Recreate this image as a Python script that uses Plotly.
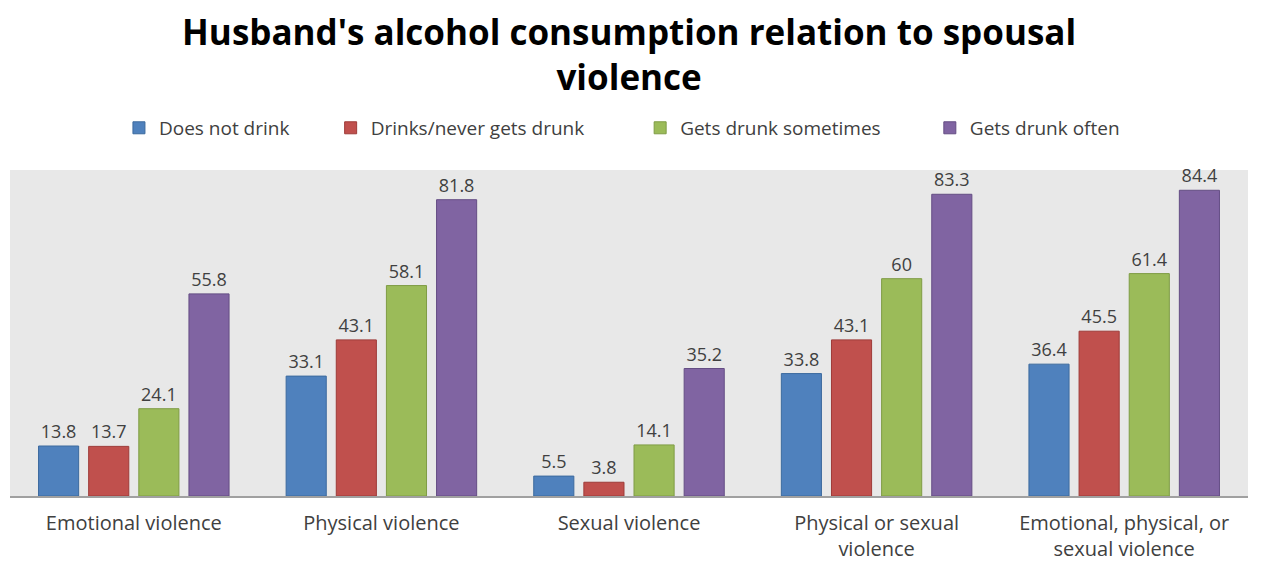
import plotly.graph_objects as go

categories = ["Emotional violence", "Physical violence", "Sexual violence",
              "Physical or sexual<br>violence", "Emotional, physical, or<br>sexual violence"]
series_names = ["Does not drink", "Drinks/never gets drunk", "Gets drunk sometimes", "Gets drunk often"]
does_not_drink = [13.8, 33.1, 5.5, 33.8, 36.4]
never_drunk = [13.7, 43.1, 3.8, 43.1, 45.5]
drunk_sometimes = [24.1, 58.1, 14.1, 60, 61.4]
drunk_often = [55.8, 81.8, 35.2, 83.3, 84.4]

colors = ["#4F81BD", "#C0504D", "#9BBB59", "#8064A2"]
lines = ["#3C6A9E", "#9E3B38", "#7F9C45", "#644D84"]
values = [does_not_drink, never_drunk, drunk_sometimes, drunk_often]
legend_x = [0.088, 0.259, 0.509, 0.743]

font_family = "Open Sans, Liberation Sans, sans-serif"
fig = go.Figure()
for i, (name, vals, c, lc) in enumerate(zip(series_names, values, colors, lines)):
    fig.add_trace(go.Bar(
        x=categories, y=vals, name=name,
        marker=dict(color=c, line=dict(color=lc, width=1)),
        text=[f"{v:g}" for v in vals], textposition="outside",
        textfont=dict(size=18, color="#404040", family=font_family),
        cliponaxis=False, showlegend=True,
        legend="legend" if i == 0 else f"legend{i+1}",
    ))

leg_common = dict(orientation="h", xanchor="left", y=1.129, yanchor="middle",
                  font=dict(size=19, color="#404040", family=font_family),
                  itemwidth=30, bgcolor="rgba(0,0,0,0)")
layout_legends = {}
for i, lx in enumerate(legend_x):
    key = "legend" if i == 0 else f"legend{i+1}"
    layout_legends[key] = dict(leg_common, x=lx)

fig.update_layout(
    width=1265, height=563, showlegend=True,
    margin=dict(l=2, r=25, t=162, b=75),
    paper_bgcolor="white", plot_bgcolor="#E8E8E8",
    barmode="group", bargap=0.19, bargroupgap=0.2,
    title=dict(text="<b>Husband's alcohol consumption relation to spousal<br>violence</b>",
               x=0.491, xanchor="center", y=0.935, yanchor="middle",
               font=dict(size=35, color="black", family=font_family)),
    xaxis=dict(showgrid=False, showline=True, linecolor="#A0A0A0", linewidth=2,
               tickfont=dict(size=20, color="#404040", family=font_family), ticks="",
               ticklabelstandoff=8),
    yaxis=dict(range=[0, 90], showgrid=False, showticklabels=False, zeroline=False, fixedrange=True),
    **layout_legends,
)
fig.write_html("out.html")
